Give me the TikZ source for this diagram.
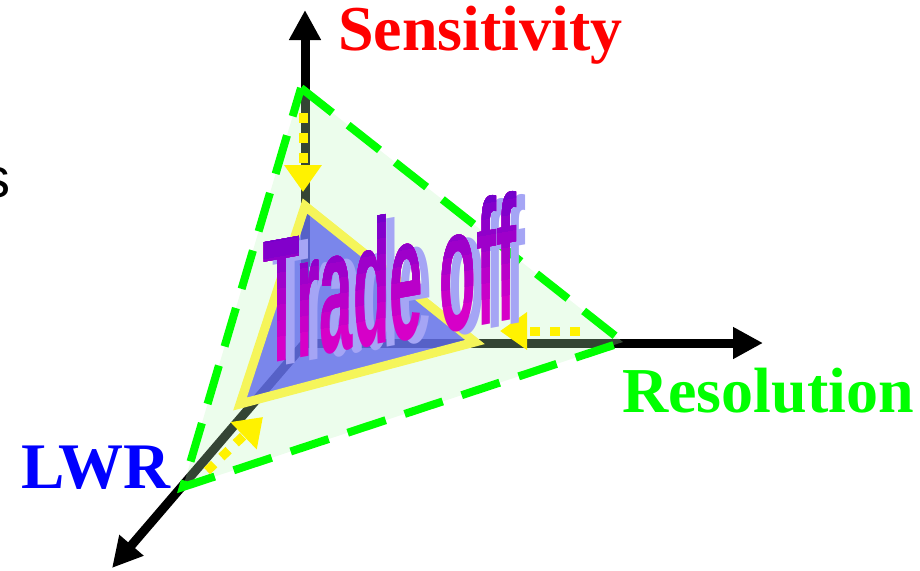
\documentclass[tikz,border=0pt]{standalone}
\usepackage{fontspec}
\setmainfont{Liberation Serif}
\setsansfont{Liberation Sans}
\usetikzlibrary{arrows.meta}

\definecolor{palegreen}{RGB}{188,248,188}
\definecolor{triblue}{RGB}{95,104,236}
\definecolor{rimyellow}{RGB}{245,245,90}
\definecolor{wordtop}{RGB}{102,0,204}
\definecolor{wordbot}{RGB}{214,0,200}
\definecolor{wordshade}{RGB}{165,165,245}
\newcommand{\tradeword}{Trade off}

\begin{document}
\begin{tikzpicture}[
  x=1pt, y=-1pt,
  axis/.style={line width=9pt, -{Triangle[length=30pt,width=30pt]}},
  axislabel/.style={font=\fontsize{64}{64}\selectfont\bfseries, inner sep=0pt, anchor=base west},
  hint/.style={yellow, line width=9pt, dash pattern=on 10pt off 10pt, -{Triangle[length=27pt,width=36pt]}},
  wordart/.style={font=\sffamily\bfseries\fontsize{60}{60}\selectfont, inner sep=0pt, anchor=base west, yslant=0.18, yscale=2.95}
]
\useasboundingbox (0,0) rectangle (920,570);

% axes
\coordinate (O) at (305,343);
\coordinate (sens) at (305,10);
\coordinate (res) at (763,343);
\coordinate (lwr) at (112,568);
\draw[axis] (O) -- (sens);
\draw[axis] (O) -- (res);
\draw[axis] (O) -- (lwr);

% outer and inner triangles
\coordinate (oS) at (301,88);
\coordinate (oR) at (623,342);
\coordinate (oL) at (183,487);
\coordinate (iS) at (305,206);
\coordinate (iR) at (475,342);
\coordinate (iL) at (240,404);
\fill[palegreen, opacity=0.28] (oS) -- (oR) -- (oL) -- cycle;
\fill[triblue, opacity=0.8] (iS) -- (iR) -- (iL) -- cycle;
\draw[rimyellow, line width=9pt] (iS) -- (iR) -- (iL) -- cycle;
\draw[green, line width=8pt, dash pattern=on 40pt off 20pt] (oS) -- (oR) -- (oL) -- cycle;

% yellow hints
\coordinate (h1) at (303,113);
\coordinate (t1) at (303,192);
\coordinate (h2) at (580,331);
\coordinate (t2) at (500,331);
\coordinate (h3) at (207,471);
\coordinate (t3) at (263,417);
\draw[hint] (h1) -- (t1);
\draw[hint] (h2) -- (t2);
\draw[hint] (h3) -- (t3);

% labels
\node[axislabel, text=red] (sensitivity) at (338,50) {Sensitivity};
\node[axislabel, text=green] (resolution) at (622,412) {Resolution};
\node[axislabel, text=blue, font=\fontsize{65}{65}\selectfont\bfseries] (lwrlabel) at (21,488) {LWR};
\node[font=\sffamily\fontsize{56}{56}\selectfont, inner sep=0pt, anchor=base east] (cut) at (11,197) {s};

% word art
\node[wordart, text=wordshade] (shadow) at (272,368) {\tradeword};
\node[wordart, text=wordbot] (trade) at (263,365) {\tradeword};
\foreach \k in {1,...,8} {
  \pgfmathsetmacro{\share}{\k*12.5}
  \begin{scope}
    \clip (220,362.7-16*\k) -- (560,301.5-16*\k) -- (560,0) -- (220,0) -- cycle;
    \node[wordart, text=wordtop!\share!wordbot] (trade\k) at (263,365) {\tradeword};
  \end{scope}
}
\end{tikzpicture}
\end{document}
